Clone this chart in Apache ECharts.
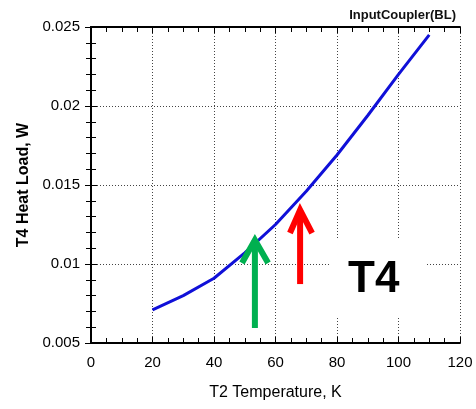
<!DOCTYPE html>
<html>
<head>
<meta charset="utf-8">
<script src="https://cdn.jsdelivr.net/npm/echarts@6/dist/echarts.min.js"></script>
<style>
  html, body { margin: 0; padding: 0; background: #fff; }
  #chart { width: 476px; height: 409px; }
</style>
</head>
<body>
<div id="chart"></div>
<script>
  // T2 temperature (K) vs T4 heat load (W)
  let temps = [20, 30, 40, 50, 60, 70, 80, 90, 100, 110];
  let loads = [0.0071, 0.0080, 0.0091, 0.0107, 0.0125, 0.0146, 0.0169, 0.0194, 0.0220, 0.0245];

  // annotation arrows: shaft [x, yBottom, yTip], head wings [xLeft, xRight, yWing]
  let greenShaft = [53.3, 0.00595, 0.01152];
  let greenHead  = [49.1, 57.6, 0.01006];
  let redShaft   = [68.0, 0.00873, 0.01342];
  let redHead    = [64.7, 71.9, 0.01196];

  let xTicks = [0, 20, 40, 60, 80, 100, 120];
  let yTicks = [0.005, 0.01, 0.015, 0.02, 0.025];

  let chart = echarts.init(document.getElementById('chart'));
  let font = 'Liberation Sans, Arial, sans-serif';

  function shaft(a) {
    return [[a[0], a[1]], [a[0], a[2]]];
  }
  function head(s, h) {
    return [[h[0], h[2]], [s[0], s[2]], [h[1], h[2]]];
  }
  function arrowSeries(data, color) {
    return {
      type: 'line',
      data: data,
      showSymbol: false,
      silent: true,
      z: 4,
      lineStyle: {color: color, width: 6, cap: 'butt', join: 'miter'}
    };
  }

  let gridStyle = {show: true, lineStyle: {color: '#444', type: [1, 2], width: 1}};

  let option = {
    animation: false,
    backgroundColor: '#fff',
    grid: {left: 91, right: 16, top: 27, bottom: 66},
    title: {
      text: 'InputCoupler(BL)',
      right: 15, top: 4,
      textStyle: {fontFamily: 'Liberation Sans Narrow, ' + font, fontSize: 13, fontWeight: 'bold', color: '#111'}
    },
    xAxis: [{
      type: 'value',
      min: xTicks[0], max: xTicks[xTicks.length - 1], interval: 20,
      name: 'T2 Temperature, K',
      nameLocation: 'middle', nameGap: 42,
      nameTextStyle: {fontFamily: font, fontSize: 16, color: '#000'},
      axisLine: {lineStyle: {color: '#000', width: 2}},
      axisTick: {inside: true, length: 6, lineStyle: {color: '#000'}},
      minorTick: {show: true, splitNumber: 4, length: 5, lineStyle: {color: '#000'}},
      axisLabel: {fontFamily: font, fontSize: 15, color: '#000', margin: 12},
      splitLine: gridStyle
    }, {
      type: 'value', position: 'top',
      min: xTicks[0], max: xTicks[xTicks.length - 1], interval: 20,
      axisLine: {show: true, lineStyle: {color: '#000', width: 2}},
      axisTick: {inside: true, length: 6, lineStyle: {color: '#000'}},
      minorTick: {show: true, splitNumber: 4, length: 5, lineStyle: {color: '#000'}},
      axisLabel: {show: false},
      splitLine: {show: false}
    }],
    yAxis: [{
      type: 'value',
      min: yTicks[0], max: yTicks[yTicks.length - 1], interval: 0.005,
      name: 'T4 Heat Load, W',
      nameLocation: 'middle', nameGap: 57,
      nameTextStyle: {fontFamily: font, fontSize: 16, fontWeight: 'bold', color: '#000'},
      axisLine: {show: true, lineStyle: {color: '#000', width: 2}},
      axisTick: {show: true, inside: true, length: 6, lineStyle: {color: '#000'}},
      minorTick: {show: true, splitNumber: 5, length: 5, lineStyle: {color: '#000'}},
      axisLabel: {fontFamily: font, fontSize: 15, color: '#000', margin: 11},
      splitLine: gridStyle
    }, {
      type: 'value', position: 'right',
      min: yTicks[0], max: yTicks[yTicks.length - 1], interval: 0.005,
      axisLine: {show: true, lineStyle: {color: '#000', width: 2}},
      axisTick: {show: true, inside: true, length: 6, lineStyle: {color: '#000'}},
      minorTick: {show: true, splitNumber: 5, length: 5, lineStyle: {color: '#000'}},
      axisLabel: {show: false},
      splitLine: {show: false}
    }],
    graphic: [{
      type: 'rect',
      shape: {x: 330, y: 239, width: 97, height: 78},
      style: {fill: '#fff'},
      z: 3
    }, {
      type: 'text',
      left: 348, top: 258,
      style: {text: 'T4', font: 'bold 44px ' + font, fill: '#000'},
      z: 5
    }],
    series: [{
      type: 'line',
      data: temps.map((t, i) => [t, loads[i]]),
      showSymbol: false,
      z: 4,
      lineStyle: {color: '#1010d8', width: 3}
    },
      arrowSeries(shaft(greenShaft), '#00b050'),
      arrowSeries(head(greenShaft.slice(0, 1).concat([0, greenShaft[2]]), greenHead), '#00b050'),
      arrowSeries(shaft(redShaft), '#ff0000'),
      arrowSeries(head(redShaft.slice(0, 1).concat([0, redShaft[2]]), redHead), '#ff0000')
    ]
  };

  chart.setOption(option);
</script>
</body>
</html>
